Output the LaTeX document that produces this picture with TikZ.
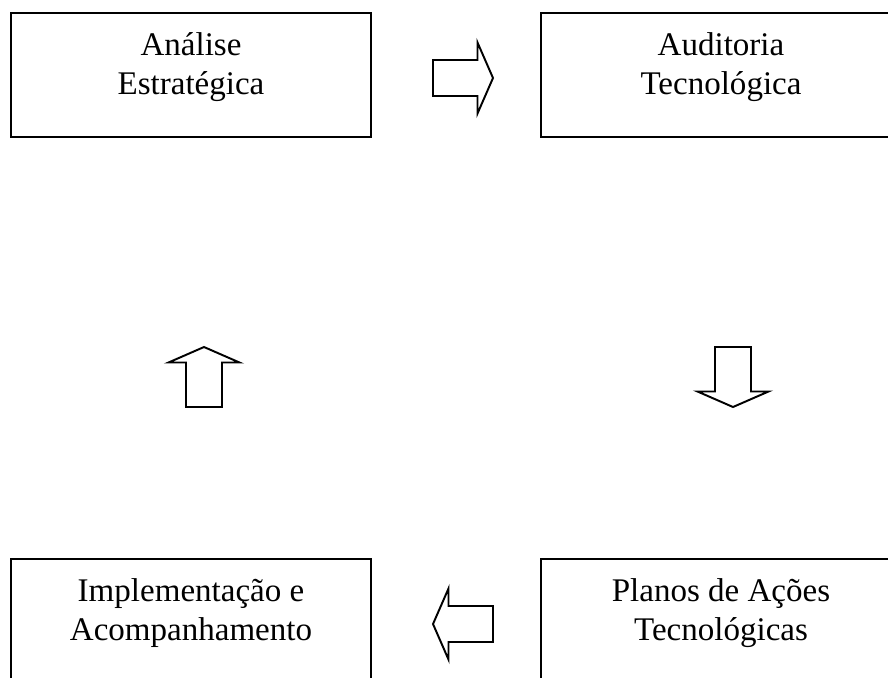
\documentclass[tikz,border=0pt]{standalone}
\usepackage{fontspec}
\setmainfont{Liberation Serif}
\usetikzlibrary{calc}

\begin{document}
\begin{tikzpicture}[x=0.02cm,y=-0.02cm,
  procbox/.style={draw,line width=1pt,minimum width=7.2cm,minimum height=2.48cm,inner sep=0pt},
  boxtext/.style={anchor=north,align=center,inner sep=0pt,
    font=\fontsize{18.8pt}{22.2pt}\selectfont},
  blockarrow/.pic={
    \draw[line width=1.1pt] (-30,-18) -- (14.5,-18) -- (14.5,-35.5) -- (30,0)
      -- (14.5,35.5) -- (14.5,18) -- (-30,18) -- cycle;}]
  \useasboundingbox (0,0) rectangle (888,677);
  \clip (0,0) rectangle (888,677);
  % the four stages (right and bottom ones run off the page)
  \node[procbox] (analise) at (191,75) {};
  \node[procbox] (auditoria) at (721,75) {};
  \node[procbox] (planos) at (721,621) {};
  \node[procbox] (implementacao) at (191,621) {};
  \node[boxtext] (analiseTxt) at ($(analise.north)+(0,20.5)$) {Análise\\Estratégica};
  \node[boxtext] (auditoriaTxt) at ($(auditoria.north)+(0,20.5)$) {Auditoria\\Tecnológica};
  \node[boxtext] (planosTxt) at ($(planos.north)+(0,20.5)$) {Planos de Ações\\Tecnológicas};
  \node[boxtext] (implementacaoTxt) at ($(implementacao.north)+(0,20.5)$) {Implementação e\\Acompanhamento};
  % block arrows of the cycle
  \pic at (463,78) {blockarrow};
  \pic[rotate=-90] at (733,377) {blockarrow};
  \pic[rotate=180] at (463,624) {blockarrow};
  \pic[rotate=90] at (204,377) {blockarrow};
\end{tikzpicture}
\end{document}
